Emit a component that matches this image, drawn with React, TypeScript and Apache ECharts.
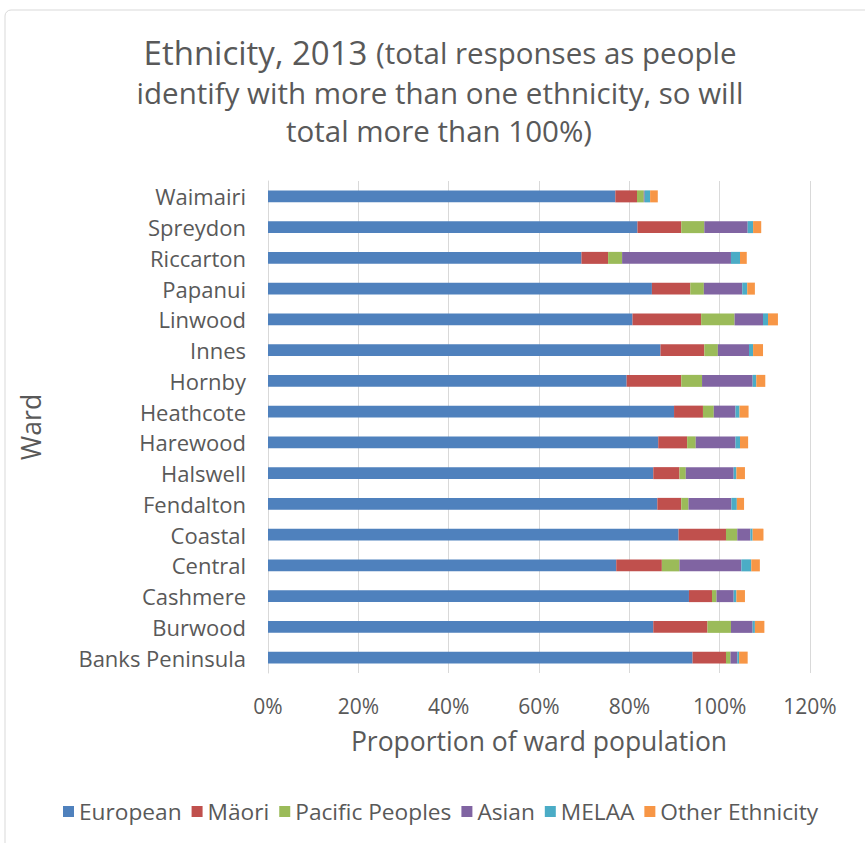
import React, { useEffect, useRef } from "react";
import * as echarts from "echarts";

// Categories listed bottom-to-top (ECharts category axis starts at the bottom)
const wards = [
  "Banks Peninsula",
  "Burwood",
  "Cashmere",
  "Central",
  "Coastal",
  "Fendalton",
  "Halswell",
  "Harewood",
  "Heathcote",
  "Hornby",
  "Innes",
  "Linwood",
  "Papanui",
  "Riccarton",
  "Spreydon",
  "Waimairi",
];

const seriesNames = ["European", "Mäori", "Pacific Peoples", "Asian", "MELAA", "Other Ethnicity"];

// Percent of ward population, same order as wards
const european = [94.0, 85.3, 93.2, 77.1, 90.9, 86.2, 85.3, 86.4, 89.9, 79.4, 86.9, 80.7, 85.0, 69.4, 81.8, 76.9];
const maori = [7.4, 12.0, 5.1, 10.1, 10.5, 5.3, 5.8, 6.4, 6.4, 12.1, 9.7, 15.2, 8.5, 5.9, 9.7, 4.8];
const pacific = [1.0, 5.2, 1.0, 3.9, 2.5, 1.6, 1.4, 1.9, 2.4, 4.6, 3.0, 7.4, 3.0, 3.1, 5.1, 1.5];
const asian = [1.5, 4.8, 3.8, 13.7, 2.9, 9.5, 10.6, 8.8, 4.8, 11.2, 6.9, 6.3, 8.5, 24.1, 9.6, 0.2];
const melaa = [0.4, 0.5, 0.6, 2.2, 0.5, 1.2, 0.6, 1.0, 0.9, 0.8, 0.9, 1.1, 1.1, 2.0, 1.2, 1.2];
const other = [1.9, 2.1, 1.9, 1.9, 2.4, 1.6, 1.9, 1.8, 2.0, 2.0, 2.2, 2.2, 1.7, 1.5, 1.8, 1.7];

const xTicks = [0, 20, 40, 60, 80, 100, 120];

const colors = ["#4F81BD", "#C0504D", "#9BBB59", "#8064A2", "#4BACC6", "#F79646"];
const seriesData = [european, maori, pacific, asian, melaa, other];

const FONT = "'Open Sans', 'DejaVu Sans', sans-serif";
const TXT = "#595959";

export default function App() {
  const ref = useRef<HTMLDivElement>(null);

  useEffect(() => {
    if (!ref.current) return;
    const chart = echarts.init(ref.current, undefined, { renderer: "svg" });
    chart.setOption({
      animation: false,
      backgroundColor: "#ffffff",
      textStyle: { fontFamily: FONT, color: TXT },
      color: colors,
      graphic: [
        {
          type: "rect",
          z: -10,
          silent: true,
          shape: { x: 5, y: 10, width: 900, height: 900, r: 6 },
          style: { fill: "none", stroke: "#D9D9D9", lineWidth: 1 },
        },
        {
          type: "text",
          x: 440,
          y: 52,
          style: {
            text: "{a|Ethnicity, 2013 }{b|(total responses as people}",
            align: "center",
            verticalAlign: "middle",
            fill: TXT,
            fontFamily: FONT,
            rich: {
              a: { fontSize: 33, fontFamily: FONT, fill: TXT },
              b: { fontSize: 29.5, fontFamily: FONT, fill: TXT },
            },
          },
        },
        {
          type: "text",
          x: 440,
          y: 92,
          style: {
            text: "identify with more than one ethnicity, so will",
            align: "center",
            verticalAlign: "middle",
            fontSize: 29.5,
            fontFamily: FONT,
            fill: TXT,
          },
        },
        {
          type: "text",
          x: 439,
          y: 130,
          style: {
            text: "total more than 100%)",
            align: "center",
            verticalAlign: "middle",
            fontSize: 29.5,
            fontFamily: FONT,
            fill: TXT,
          },
        },
      ],
      legend: {
        data: seriesNames,
        left: 58,
        top: 795,
        icon: "rect",
        itemWidth: 11,
        itemHeight: 11,
        itemGap: 10,
        textStyle: { fontSize: 22.7, color: TXT, fontFamily: FONT },
      },
      grid: { left: 268, right: 55, top: 181, bottom: 170, containLabel: false },
      xAxis: {
        type: "value",
        min: xTicks[0],
        max: xTicks[xTicks.length - 1],
        interval: 20,
        name: "Proportion of ward population",
        nameLocation: "middle",
        nameGap: 54,
        nameTextStyle: { fontSize: 26.5, color: TXT, fontFamily: FONT },
        axisLine: { show: false },
        axisTick: { show: false },
        axisLabel: { formatter: "{value}%", fontSize: 21, color: TXT, margin: 22, fontFamily: FONT },
        splitLine: { show: true, lineStyle: { color: "#D9D9D9", width: 1 } },
      },
      yAxis: {
        type: "category",
        data: wards,
        name: "Ward",
        nameLocation: "middle",
        nameRotate: 90,
        nameGap: 224,
        nameTextStyle: { fontSize: 26.5, color: TXT, fontFamily: FONT },
        axisLine: { show: true, lineStyle: { color: "#D9D9D9", width: 1 } },
        axisTick: { show: false },
        axisLabel: { fontSize: 22, color: TXT, margin: 22, fontFamily: FONT },
      },
      series: seriesNames.map((name, i) => ({
        name,
        type: "bar",
        stack: "total",
        barWidth: "39%",
        data: seriesData[i],
        itemStyle: { color: colors[i] },
      })),
    });
    return () => chart.dispose();
  }, []);

  return (
    <div
      ref={ref}
      style={{ position: "absolute", left: 0, top: 0, width: 865, height: 843 }}
    />
  );
}
